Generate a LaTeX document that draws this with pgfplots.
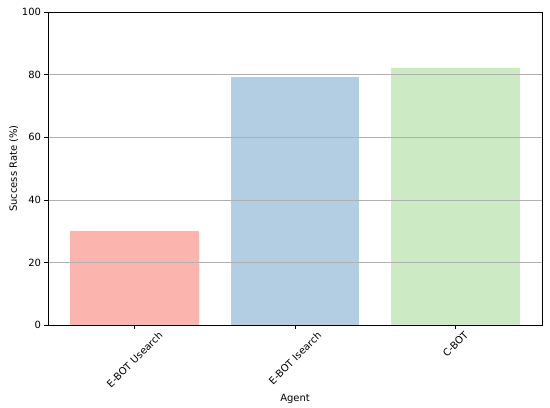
\documentclass[border=0pt]{standalone}
\usepackage{pgfplots}
\pgfplotsset{compat=1.18}
\usepackage{fontspec}
\setmainfont{DejaVu Sans}
\definecolor{c1}{HTML}{FBB4AE}
\definecolor{c2}{HTML}{B3CDE3}
\definecolor{c3}{HTML}{CCEBC5}
\definecolor{gridc}{HTML}{B0B0B0}
\begin{document}
\fontsize{10}{12}\selectfont
\begin{tikzpicture}
\useasboundingbox (-48bp,-83bp) rectangle (502bp,325bp);
\begin{axis}[
  at={(0,0)}, anchor=south west,
  scale only axis, width=494bp, height=313bp,
  xmin=-0.54, xmax=2.54, ymin=0, ymax=100,
  xtick={0,1,2},
  xticklabels={\rotatebox{45}{E-BOT Usearch},\rotatebox{45}{E-BOT Isearch},\rotatebox{45}{C-BOT}},
  xticklabel style={anchor=north, inner sep=2pt},
  ytick={0,20,40,60,80,100},
  ymajorgrids, grid style={gridc, line width=0.6pt},
  axis on top,
  tick align=outside, major tick length=3.5bp,
  tick style={black, line width=0.6pt},
  axis line style={line width=0.6pt},
  xtick pos=bottom, ytick pos=left,
  /pgf/number format/assume math mode=true,
  ticklabel style={font=\fontsize{10}{12}\selectfont},
  xlabel={Agent}, ylabel={Success Rate (\%)},
  label style={font=\fontsize{10}{12}\selectfont},
  ylabel style={yshift=-3bp},
  ybar, bar width=0.8, bar shift=0pt,
]
\addplot[fill=c1, draw=none] coordinates {(0,30.1)};
\addplot[fill=c2, draw=none] coordinates {(1,79.2)};
\addplot[fill=c3, draw=none] coordinates {(2,82.1)};
\end{axis}
\end{tikzpicture}
\end{document}
